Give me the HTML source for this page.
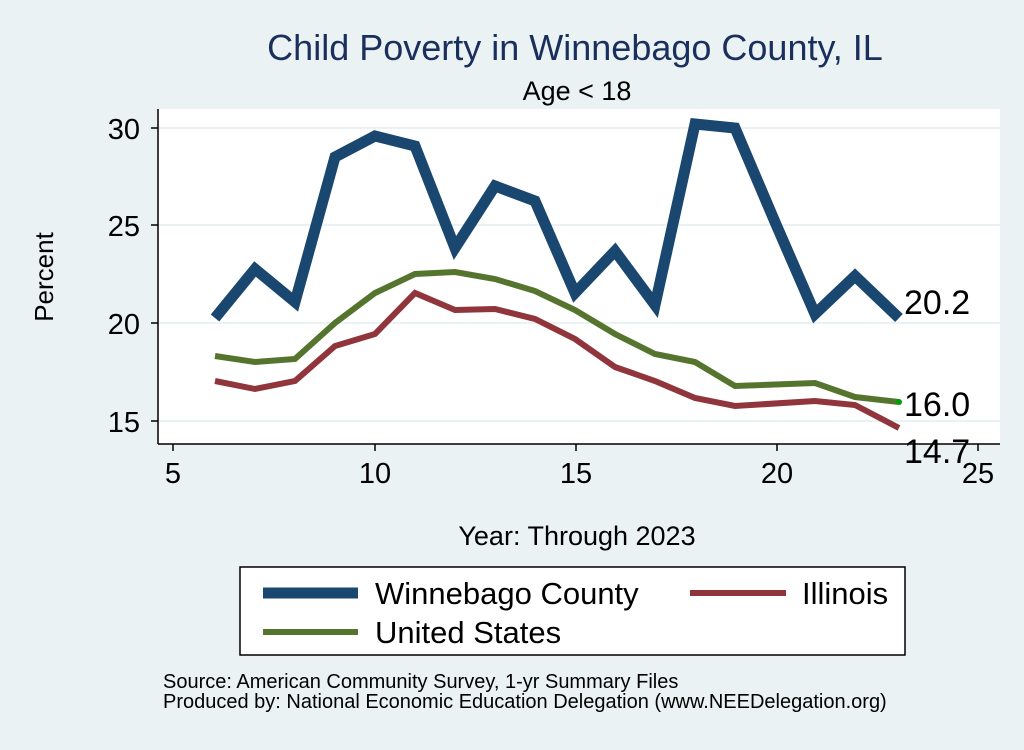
<!DOCTYPE html><html><head><style>body{margin:0;background:#eaf2f3}</style></head><body>
<svg width="1024" height="745" xmlns="http://www.w3.org/2000/svg" font-family="Liberation Sans, sans-serif">
<rect width="1024" height="745" fill="#eaf2f3"/>
<rect x="158" y="109" width="842" height="335" fill="#fff"/>
<g stroke="#eaf2f3" stroke-width="2"><line x1="158" x2="1000" y1="128" y2="128"/><line x1="158" x2="1000" y1="225" y2="225"/><line x1="158" x2="1000" y1="323" y2="323"/><line x1="158" x2="1000" y1="421" y2="421"/></g>
<g stroke="#000" stroke-width="1.5"><line x1="158" y1="109" x2="158" y2="444"/><line x1="158" y1="444" x2="1000" y2="444"/>
<line x1="151" x2="158" y1="128" y2="128"/><line x1="151" x2="158" y1="225" y2="225"/><line x1="151" x2="158" y1="323" y2="323"/><line x1="151" x2="158" y1="421" y2="421"/>
<line x1="173" x2="173" y1="444" y2="451"/><line x1="375" x2="375" y1="444" y2="451"/><line x1="576" x2="576" y1="444" y2="451"/><line x1="777" x2="777" y1="444" y2="451"/><line x1="978" x2="978" y1="444" y2="451"/></g>
<g font-size="29" text-anchor="end"><text x="140" y="139">30</text><text x="140" y="236">25</text><text x="140" y="334">20</text><text x="140" y="432">15</text></g>
<g font-size="29" text-anchor="middle"><text x="173" y="483">5</text><text x="375" y="483">10</text><text x="576" y="483">15</text><text x="777" y="483">20</text><text x="978" y="483">25</text></g>
<text x="575" y="60" font-size="36" fill="#1a2f5c" text-anchor="middle">Child Poverty in Winnebago County, IL</text>
<text x="577" y="100" font-size="27" text-anchor="middle">Age &lt; 18</text>
<text x="577" y="545" font-size="27" text-anchor="middle">Year: Through 2023</text>
<text transform="translate(53,277) rotate(-90)" font-size="26" text-anchor="middle">Percent</text>
<g fill="none" stroke-linejoin="miter">
<polyline stroke="#1a476f" stroke-width="11" points="215,318 255,269 295,302 335,157 375,136 415,146 455,248 495,186 535,201 575,293 615,251 655,305 695,124 735,128 775,222 815,314 855,276 899,318"/>
<polyline stroke="#90353b" stroke-width="6" points="215,381 255,389 295,381 335,346 375,334 415,293 455,310 495,309 535,319 575,339 615,367 655,381 695,398 735,406 815,401 855,405 899,428"/>
<polyline stroke="#55752f" stroke-width="6" points="215,356 255,362 295,359 335,323 375,293 415,274 455,272 495,279 535,291 575,310 615,334 655,354 695,362 735,386 815,383 855,397 899,402"/>
</g>
<circle cx="899" cy="402" r="3" fill="#00a000"/>
<g font-size="34"><text x="904" y="314">20.2</text><text x="904" y="416">16.0</text><text x="904" y="463">14.7</text></g>
<rect x="240" y="567" width="665" height="88" fill="#fff" stroke="#000" stroke-width="1.5"/>
<line x1="263" x2="358" y1="593" y2="593" stroke="#1a476f" stroke-width="11"/>
<line x1="690" x2="786" y1="593" y2="593" stroke="#90353b" stroke-width="6"/>
<line x1="263" x2="358" y1="632" y2="632" stroke="#55752f" stroke-width="6"/>
<g font-size="31"><text x="375" y="604">Winnebago County</text><text x="802" y="604">Illinois</text><text x="375" y="643">United States</text></g>
<g font-size="20"><text x="163" y="688">Source: American Community Survey, 1-yr Summary Files</text><text x="163" y="708">Produced by: National Economic Education Delegation (www.NEEDelegation.org)</text></g>
</svg></body></html>
